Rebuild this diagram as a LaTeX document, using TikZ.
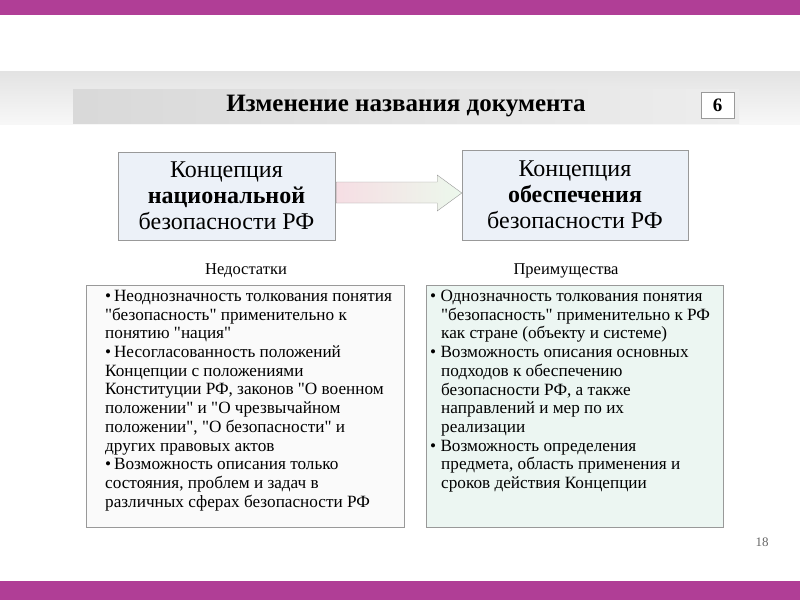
\documentclass[tikz,border=0pt]{standalone}
\usepackage{fontspec}
\setmainfont{Liberation Serif}
\usetikzlibrary{calc}
\definecolor{framepurple}{RGB}{176,62,150}
\definecolor{conblue}{RGB}{236,241,248}
\definecolor{listgray}{RGB}{250,250,250}
\definecolor{listmint}{RGB}{236,246,242}
\definecolor{arrowpink}{RGB}{246,222,228}
\definecolor{arrowgreen}{RGB}{236,248,236}
% straight double quote, past the tex-text mapping
\newcommand{\dq}{\XeTeXglyph\XeTeXcharglyph"22\relax}
\begin{document}
\begin{tikzpicture}[x=1pt,y=-1pt,
    conbox/.style={draw=gray!80,fill=conblue,inner sep=0pt,align=center,
      font=\fontsize{24}{26}\selectfont},
    listbox/.style={draw=gray!80,minimum height=242pt,inner sep=0pt},
    listtext/.style={anchor=north west,align=left,inner sep=0pt,
      font=\fontsize{17.2}{18.7}\selectfont},
    headtext/.style={font=\fontsize{16.5}{18}\selectfont}]
    \useasboundingbox (0,0) rectangle (800,600);
    % page frame
    \fill[white] (0,0) rectangle (800,600);
    \fill[framepurple] (0,0) rectangle (800,15);
    \fill[framepurple] (0,581) rectangle (800,600);
    % title
    \shade[top color=gray!22,bottom color=gray!6] (0,71) rectangle (800,124);
    \shade[left color=gray!30,right color=gray!14] (73,89) rectangle (739,123);
    \node[font=\fontsize{25}{28}\selectfont\bfseries] (title) at (406,106) {Изменение названия документа};
    \node[draw=gray!80,fill=white,minimum width=33pt,minimum height=26pt,inner sep=0pt,
      font=\fontsize{19}{20}\selectfont\bfseries] (num) at (717.5,105) {6};
    % the two concepts
    \node[conbox,minimum width=217pt,minimum height=88pt] (oldc) at (226.5,196)
      {Концепция\\\textbf{национальной}\\безопасности РФ};
    \node[conbox,minimum width=226pt,minimum height=90pt] (newc) at (575,195)
      {Концепция\\\textbf{обеспечения}\\безопасности РФ};
    \shade[left color=arrowpink,right color=arrowgreen,draw=gray!80]
      ($(oldc.east)+(1,-14)$) -- ($(oldc.east)+(102,-14)$) -- ($(oldc.east)+(102,-21)$)
      -- (newc.west |- 0,193) -- ($(oldc.east)+(102,15)$) -- ($(oldc.east)+(102,7)$)
      -- ($(oldc.east)+(1,7)$) -- cycle;
    % lists
    \node[headtext] (minus) at (246,271) {Недостатки};
    \node[headtext] (plus) at (566,271) {Преимущества};
    \node[listbox,fill=listgray,minimum width=318pt] (bad) at (245,406) {};
    \node[listbox,fill=listmint,minimum width=297pt] (good) at (574.5,406) {};
    \node[listtext] (badlist) at (105,290) {\textbullet\,Неоднозначность толкования понятия\\
      \dq безопасность\dq{} применительно к\\
      понятию \dq нация\dq\\
      \textbullet\,Несогласованность положений\\
      Концепции с положениями\\
      Конституции РФ, законов \dq О военном\\
      положении\dq{} и \dq О чрезвычайном\\
      положении\dq, \dq О безопасности\dq{} и\\
      других правовых актов\\
      \textbullet\,Возможность описания только\\
      состояния, проблем и задач в\\
      различных сферах безопасности РФ};
    \node[listtext] (goodlist) at (430,290) {\textbullet\ Однозначность толкования понятия\\
      \hspace*{11pt}\dq безопасность\dq{} применительно к РФ\\
      \hspace*{11pt}как стране (объекту и системе)\\
      \textbullet\ Возможность описания основных\\
      \hspace*{11pt}подходов к обеспечению\\
      \hspace*{11pt}безопасности РФ, а также\\
      \hspace*{11pt}направлений и мер по их\\
      \hspace*{11pt}реализации\\
      \textbullet\ Возможность определения\\
      \hspace*{11pt}предмета, область применения и\\
      \hspace*{11pt}сроков действия Концепции};
    \node[text=gray!80!black,font=\fontsize{13}{14}\selectfont] (page) at (762,542) {18};
\end{tikzpicture}
\end{document}
